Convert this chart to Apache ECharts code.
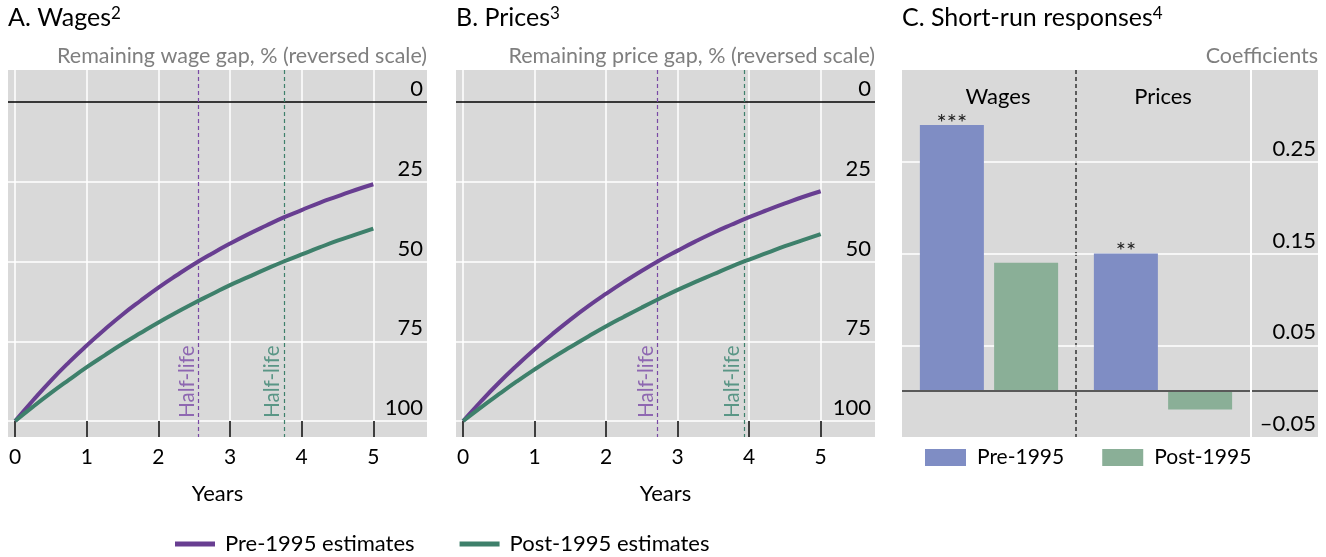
<!DOCTYPE html>
<html>
<head>
<meta charset="utf-8">
<script src="https://cdn.jsdelivr.net/npm/echarts@6/dist/echarts.min.js"></script>
<style>
  html, body { margin: 0; padding: 0; background: #fff; }
  #chart { width: 1326px; height: 557px; }
</style>
</head>
<body>
<div id="chart"></div>
<script>
// Years after the shock, quarterly steps
const years = [0, 0.25, 0.5, 0.75, 1, 1.25, 1.5, 1.75, 2, 2.25, 2.5, 2.75, 3, 3.25, 3.5, 3.75, 4, 4.25, 4.5, 4.75, 5];

// Remaining wage gap, %
const wagePre  = [100, 93.5, 87.3, 81.6, 76.3, 71.3, 66.6, 62.3, 58.2, 54.4, 50.8, 47.5, 44.4, 41.5, 38.8, 36.2, 33.9, 31.6, 29.6, 27.6, 25.8];
const wagePost = [100, 95.5, 91.2, 87.1, 83.1, 79.4, 75.8, 72.4, 69.1, 66.0, 63.0, 60.2, 57.4, 54.9, 52.4, 50.0, 47.8, 45.6, 43.5, 41.6, 39.7];

// Remaining price gap, %
const pricePre  = [100, 93.8, 88.0, 82.6, 77.5, 72.7, 68.2, 64.0, 60.1, 56.4, 52.9, 49.6, 46.6, 43.7, 41.0, 38.5, 36.1, 33.9, 31.8, 29.8, 28.0];
const pricePost = [100, 95.7, 91.6, 87.6, 83.8, 80.2, 76.8, 73.5, 70.3, 67.3, 64.4, 61.6, 58.9, 56.4, 54.0, 51.6, 49.4, 47.3, 45.2, 43.3, 41.4];

// Half-lives in years: [pre-1995, post-1995]
const wageHalfLife  = [2.56, 3.75];
const priceHalfLife = [2.72, 3.93];

// Short-run response coefficients
const groups   = ['Wages', 'Prices'];
const pre1995  = [0.29, 0.15];
const post1995 = [0.14, -0.02];
const stars    = ['***', '**'];

// Tick labels
const yearTicks = [0, 1, 2, 3, 4, 5];
const gapTicks  = [0, 25, 50, 75, 100];
const coefTicks = [-0.05, 0.05, 0.15, 0.25];

const FONT = 'Lato, "Open Sans", sans-serif';
const PURPLE = '#683e91';
const GREEN = '#3e806b';
const PURPLE_TXT = '#7a4aa6';
const GREEN_TXT = '#3a8570';
const BAR_PRE = '#7f8dc4';
const BAR_POST = '#8aaf97';
const PANEL_BG = '#d9d9d9';

const chart = echarts.init(document.getElementById('chart'), null, { renderer: 'canvas' });

function gapPanelSeries(idx, pre, post, halfLife) {
  const gridLines = gapTicks.filter(v => v > 0).map(v => ({ yAxis: v }))
    .concat(yearTicks.map(v => ({ xAxis: v })));
  // short black tick marks below the 100 line, one per year
  const yearMarks = yearTicks.map(v => [{ coord: [v, 100] }, { coord: [v, 105] }]);
  return [
    {
      type: 'line', xAxisIndex: idx, yAxisIndex: idx, data: [], silent: true,
      markLine: {
        silent: true, symbol: 'none', z: 1, animation: false,
        label: { show: false },
        lineStyle: { color: '#fff', width: 1.5, type: 'solid' },
        data: gridLines.concat([{ yAxis: 0, lineStyle: { color: '#000', width: 1.5, type: 'solid' } }])
      }
    },
    {
      type: 'line', xAxisIndex: idx, yAxisIndex: idx, data: [], silent: true,
      markLine: {
        silent: true, symbol: 'none', z: 2, animation: false,
        label: { show: false },
        lineStyle: { color: '#000', width: 1.5, type: 'solid' },
        data: yearMarks
      }
    },
    {
      type: 'line', xAxisIndex: idx, yAxisIndex: idx, data: [], silent: true,
      markLine: {
        silent: true, symbol: 'none', z: 2, animation: false,
        label: { show: false },
        lineStyle: { width: 1.2, type: [4, 3] },
        data: [
          { xAxis: halfLife[0], lineStyle: { color: PURPLE_TXT } },
          { xAxis: halfLife[1], lineStyle: { color: GREEN } }
        ]
      }
    },
    {
      type: 'line', name: 'Pre-1995 estimates', xAxisIndex: idx, yAxisIndex: idx, z: 3,
      data: years.map((x, i) => [x, pre[i]]),
      showSymbol: false, smooth: true,
      lineStyle: { color: PURPLE, width: 4 }, itemStyle: { color: PURPLE }
    },
    {
      type: 'line', name: 'Post-1995 estimates', xAxisIndex: idx, yAxisIndex: idx, z: 3,
      data: years.map((x, i) => [x, post[i]]),
      showSymbol: false, smooth: true,
      lineStyle: { color: GREEN, width: 4 }, itemStyle: { color: GREEN }
    },
    {
      type: 'scatter', xAxisIndex: idx, yAxisIndex: idx, symbolSize: 0, silent: true, z: 4,
      data: [
        { value: [halfLife[0], 99], label: { color: PURPLE_TXT } },
        { value: [halfLife[1], 99], label: { color: GREEN_TXT } }
      ],
      label: {
        show: true, formatter: 'Half-life', rotate: 90,
        position: [-1, 0], align: 'left', verticalAlign: 'bottom',
        fontFamily: FONT, fontSize: 20.5
      }
    }
  ];
}

function gapXAxis(idx, min, max) {
  return {
    gridIndex: idx, type: 'value', min: min, max: max,
    splitLine: { show: false },
    axisLine: { show: false, onZero: false },
    axisTick: { show: false },
    axisLabel: { customValues: yearTicks, margin: 10, fontSize: 21, color: '#000', fontFamily: FONT },
    name: 'Years', nameLocation: 'middle', nameGap: 46,
    nameTextStyle: { fontSize: 22, color: '#000', fontFamily: FONT }
  };
}

function gapYAxis(idx) {
  return {
    gridIndex: idx, type: 'value', inverse: true, min: -10, max: 105, position: 'right',
    axisLine: { show: false, onZero: false }, axisTick: { show: false }, splitLine: { show: false },
    axisLabel: {
      inside: true, customValues: gapTicks, margin: 4, verticalAlign: 'bottom',
      fontSize: 22, color: '#000', fontFamily: FONT, padding: [0, 0, 2, 0]
    }
  };
}

function coefLabel(v) {
  const s = Math.abs(v).toFixed(2);
  return v < 0 ? '\u2013' + s : s;
}

const coefGridLines = [0.05, 0.15, 0.25].map(v => ({ yAxis: v }));

const titleRich = {
  t: { fontSize: 25, color: '#000', fontFamily: FONT, fontWeight: 'normal' },
  s: { fontSize: 17, color: '#000', fontFamily: FONT, fontWeight: 'normal', verticalAlign: 'top' }
};
const subStyle = { fontSize: 21.5, color: '#7f7f7f', fontFamily: FONT, fontWeight: 'normal' };

const option = {
  animation: false,
  backgroundColor: '#fff',
  textStyle: { fontFamily: FONT },
  title: [
    { text: '{t|A. Wages}{s|2}', left: 8, top: 5, padding: 0, textStyle: { rich: titleRich } },
    { text: '{t|B. Prices}{s|3}', left: 456, top: 5, padding: 0, textStyle: { rich: titleRich } },
    { text: '{t|C. Short-run responses}{s|4}', left: 902, top: 5, padding: 0, textStyle: { rich: titleRich } },
    { text: 'Remaining wage gap, % (reversed scale)', right: 899, top: 45, padding: 0, textStyle: subStyle },
    { text: 'Remaining price gap, % (reversed scale)', right: 451, top: 45, padding: 0, textStyle: subStyle },
    { text: 'Coefficients', right: 8, top: 45, padding: 0, textStyle: subStyle }
  ],
  legend: [
    {
      data: ['Pre-1995 estimates', 'Post-1995 estimates'],
      left: 175, top: 533, padding: 0, icon: 'rect', itemWidth: 40, itemHeight: 5, itemGap: 45,
      selectedMode: false,
      textStyle: { fontSize: 22, color: '#000', fontFamily: FONT, padding: [0, 0, 0, 5] }
    },
    {
      data: ['Pre-1995', 'Post-1995'],
      left: 925, top: 447, padding: 0, icon: 'rect', itemWidth: 41, itemHeight: 17, itemGap: 38,
      selectedMode: false,
      textStyle: { fontSize: 21, color: '#000', fontFamily: FONT, padding: [0, 0, 0, 6] }
    }
  ],
  grid: [
    { left: 8, top: 70, width: 419, height: 367, show: true, backgroundColor: PANEL_BG, borderWidth: 0 },
    { left: 456, top: 70, width: 419, height: 367, show: true, backgroundColor: PANEL_BG, borderWidth: 0 },
    { left: 902, top: 70, width: 348, height: 367, show: true, backgroundColor: PANEL_BG, borderWidth: 0 },
    { left: 1252, top: 70, width: 66, height: 367, show: true, backgroundColor: PANEL_BG, borderWidth: 0 }
  ],
  xAxis: [
    gapXAxis(0, -0.1, 5.75),
    gapXAxis(1, -0.1, 5.76),
    {
      gridIndex: 2, type: 'category', data: groups, position: 'top',
      axisLine: { show: false, onZero: false }, axisTick: { show: false },
      axisLabel: {
        inside: true, margin: 16, color: '#000', fontFamily: FONT, fontSize: 22,
        formatter: (v, i) => (i === 0 ? '{w|' + v + '}' : '{p|' + v + '}'),
        rich: {
          w: { fontSize: 22, fontFamily: FONT, color: '#000', padding: [0, 0, 0, 18] },
          p: { fontSize: 22, fontFamily: FONT, color: '#000' }
        }
      },
      splitLine: {
        show: true, showMinLine: false, showMaxLine: false,
        lineStyle: { color: '#333', type: [4, 3], width: 1.5 }
      }
    },
    { gridIndex: 3, type: 'value', min: 0, max: 1, show: false }
  ],
  yAxis: [
    gapYAxis(0),
    gapYAxis(1),
    {
      gridIndex: 2, type: 'value', min: -0.05, max: 0.35, show: false,
      axisLine: { show: false, onZero: false }, splitLine: { show: false }
    },
    {
      gridIndex: 3, type: 'value', min: -0.05, max: 0.35, position: 'right',
      axisLine: { show: false, onZero: false }, axisTick: { show: false }, splitLine: { show: false },
      axisLabel: {
        inside: true, customValues: coefTicks, formatter: coefLabel, margin: 2, verticalAlign: 'bottom',
        fontSize: 22, color: '#000', fontFamily: FONT, padding: [0, 0, 2, 0]
      }
    }
  ],
  series: [
    ...gapPanelSeries(0, wagePre, wagePost, wageHalfLife),
    ...gapPanelSeries(1, pricePre, pricePost, priceHalfLife),
    {
      type: 'bar', name: 'Pre-1995', xAxisIndex: 2, yAxisIndex: 2, z: 2,
      data: pre1995, barWidth: 64, barGap: '16%',
      itemStyle: { color: BAR_PRE },
      label: {
        show: true, position: 'top', distance: -10,
        formatter: p => stars[p.dataIndex], fontSize: 24, color: '#222', fontFamily: FONT
      },
      markLine: {
        silent: true, symbol: 'none', z: 1, animation: false, label: { show: false },
        lineStyle: { color: '#fff', width: 1.5, type: 'solid' },
        data: coefGridLines
      }
    },
    {
      type: 'bar', name: 'Post-1995', xAxisIndex: 2, yAxisIndex: 2, z: 2,
      data: post1995, barWidth: 64, barGap: '16%',
      itemStyle: { color: BAR_POST },
      markLine: {
        silent: true, symbol: 'none', z: 5, animation: false, label: { show: false },
        lineStyle: { color: '#595959', width: 2, type: 'solid' },
        data: [{ yAxis: 0 }]
      }
    },
    {
      type: 'line', xAxisIndex: 3, yAxisIndex: 3, data: [], silent: true,
      markLine: {
        silent: true, symbol: 'none', z: 1, animation: false, label: { show: false },
        lineStyle: { color: '#fff', width: 1.5, type: 'solid' },
        data: coefGridLines.concat([{ yAxis: 0, lineStyle: { color: '#595959', width: 2, type: 'solid' } }])
      }
    }
  ]
};

chart.setOption(option);
</script>
</body>
</html>
